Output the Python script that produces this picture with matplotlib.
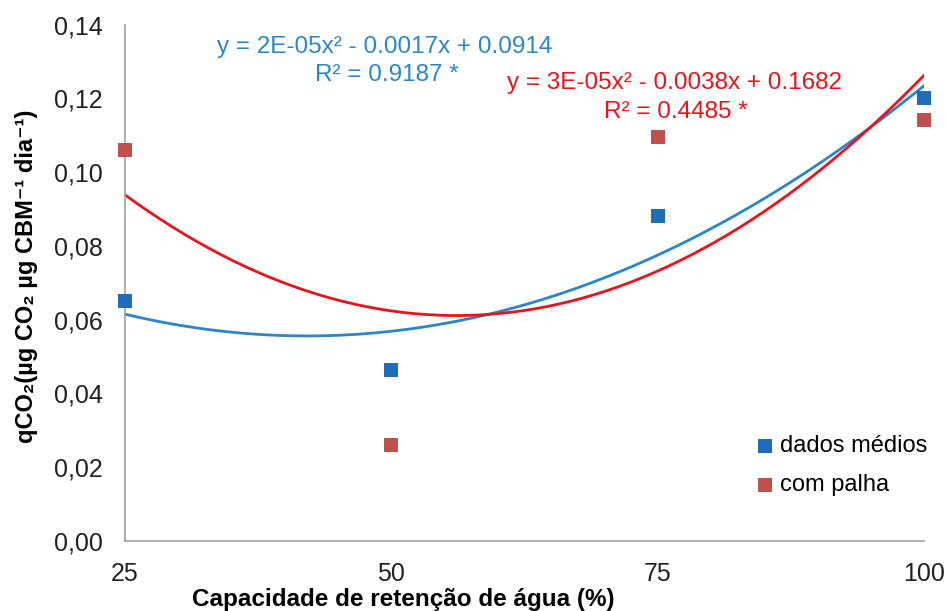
import numpy as np
import matplotlib.pyplot as plt

plt.rcParams['font.family'] = ['Liberation Sans', 'DejaVu Sans']

# water retention capacity (%)
x = [25, 50, 75, 100]
medios = [0.065, 0.0464, 0.088, 0.120]
palha = [0.106, 0.026, 0.1096, 0.1142]
yticks = [0.00, 0.02, 0.04, 0.06, 0.08, 0.10, 0.12, 0.14]

blue_pt = '#1F6DBA'
red_pt = '#C0504D'
blue_ln = '#2A86C9'
red_ln = '#E8141C'

fig = plt.figure(figsize=(9.46, 6.11), dpi=100)
ax = fig.add_axes([0.132, 0.1146, 0.845, 0.845])

# quadratic trendlines (as in the spreadsheet)
xs = np.linspace(25, 100, 200)
ax.plot(xs, np.polyval(np.polyfit(x, medios, 2), xs), color=blue_ln, lw=2, zorder=2)
ax.plot(xs, np.polyval(np.polyfit(x, palha, 2), xs), color=red_ln, lw=2, zorder=2)

ax.scatter(x, medios, marker='s', s=100, color=blue_pt, label='dados médios', clip_on=False, zorder=3, linewidths=0)
ax.scatter(x, palha, marker='s', s=100, color=red_pt, label='com palha', clip_on=False, zorder=3, linewidths=0)

ax.set_xlim(25, 100)
ax.set_ylim(0, 0.14)
ax.set_xticks(x)
ax.set_yticks(yticks)
ax.set_yticklabels([('%.2f' % v).replace('.', ',') for v in yticks])
ax.tick_params(length=0, labelsize=18, colors='#222222')
ax.tick_params(axis='y', pad=16)
ax.tick_params(axis='x', pad=15)

for s in ['top', 'right']:
    ax.spines[s].set_visible(False)
for s in ['left', 'bottom']:
    ax.spines[s].set_color('#A0A0A0')
    ax.spines[s].set_linewidth(1.2)

ax.set_xlabel('Capacidade de retenção de água (%)', fontsize=17.5, fontweight='bold', va='center')
ax.xaxis.set_label_coords(0.348, -0.114)
ax.set_ylabel('qCO₂(µg CO₂ µg CBM⁻¹ dia⁻¹)', fontsize=17, fontweight='bold', va='center')
ax.yaxis.set_label_coords(-0.1227, 0.512)

fig.text(0.407, 0.923, 'y = 2E-05x² - 0.0017x + 0.0914', color=blue_ln, fontsize=17.5, ha='center', va='center')
fig.text(0.485, 0.877, 'R² = 0.9187 *', color=blue_ln, fontsize=17.5, ha='right', va='center')
fig.text(0.7125, 0.864, 'y = 3E-05x² - 0.0038x + 0.1682', color=red_ln, fontsize=17.5, ha='center', va='center')
fig.text(0.790, 0.817, 'R² = 0.4485 *', color=red_ln, fontsize=17.5, ha='right', va='center')

ax.legend(loc='center left', bbox_to_anchor=(0.791, 0.146), frameon=False, fontsize=17,
          handlelength=0.7, handletextpad=0.25, labelspacing=0.7, markerscale=0.95,
          borderaxespad=0, borderpad=0)

fig.savefig('out.png', dpi=100)
